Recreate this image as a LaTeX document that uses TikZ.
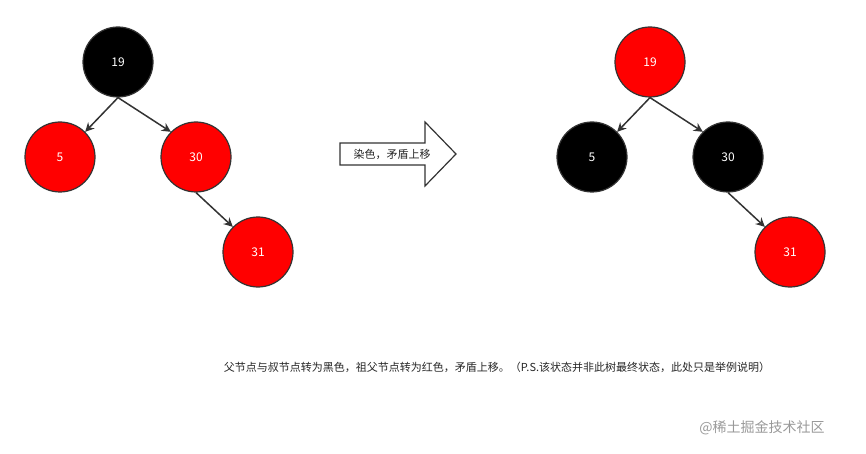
\documentclass[tikz,border=0pt]{standalone}
\usepackage{fontspec}
\setmainfont{Noto Sans CJK SC}
\usetikzlibrary{arrows.meta}
\begin{document}
\begin{tikzpicture}[x=1pt,y=-1pt,
  rb/.style={circle,draw=black!80,line width=1.2pt,minimum size=70pt,inner sep=0pt,text=white,font=\fontsize{12}{14}\selectfont},
  red/.style={rb,fill=red},
  blk/.style={rb,fill=black},
  edge/.style={draw=black!80,line width=1.5pt,-{Stealth[length=9pt,width=9pt]}}]
\useasboundingbox (0,0) rectangle (866,454);
\node[blk] (a19) at (118,62) {19};
\node[red] (a5) at (60,157) {5};
\node[red] (a30) at (196,157) {30};
\node[red] (a31) at (258,252) {31};
\draw[edge] (a19.south) -- (a5.north east);
\draw[edge] (a19.south) -- (a30.north west);
\draw[edge] (a30.south) -- (a31.north west);
\node[red] (b19) at (650,62) {19};
\node[blk] (b5) at (592,157) {5};
\node[blk] (b30) at (728,157) {30};
\node[red] (b31) at (790,252) {31};
\draw[edge] (b19.south) -- (b5.north east);
\draw[edge] (b19.south) -- (b30.north west);
\draw[edge] (b30.south) -- (b31.north west);
\draw[black!80,line width=1.2pt,fill=white] (340,143) -- (425,143) -- (425,122) -- (456,154) -- (425,186) -- (425,165) -- (340,165) -- cycle;
\node[font=\fontsize{11}{13}\selectfont,text=black!85] (t) at (392,154) {染色，矛盾上移};
\node[font=\fontsize{11}{13}\selectfont,text=black!85] (cap) at (497,367) {父节点与叔节点转为黑色，祖父节点转为红色，矛盾上移。（P.S.该状态并非此树最终状态，此处只是举例说明）};
\node[font=\fontsize{14}{16}\selectfont,text=black!40] (wm) at (762,428) {@稀土掘金技术社区};
\end{tikzpicture}
\end{document}
